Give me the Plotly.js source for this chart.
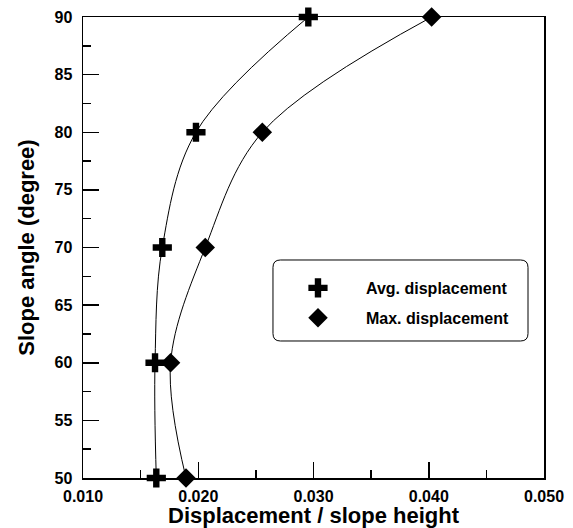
<!DOCTYPE html>
<html>
<head>
<meta charset="utf-8">
<script src="https://cdn.plot.ly/plotly-3.0.1.min.js"></script>
<style>html,body{margin:0;padding:0;background:#fff;}#chart{width:573px;height:528px;}</style>
</head>
<body>
<div id="chart"></div>
<script>
// Data
const slopeAngle = [50, 60, 70, 80, 90];
const avgDisplacement = [0.01636, 0.01625, 0.01688, 0.01980, 0.02955];
const maxDisplacement = [0.01894, 0.01760, 0.02061, 0.02556, 0.04025];
const seriesNames = ["Avg. displacement", "Max. displacement"];
const xTickVals = [0.010, 0.020, 0.030, 0.040, 0.050];
const yTickVals = [50, 55, 60, 65, 70, 75, 80, 85, 90];

const FONT = "'Liberation Sans', Arial, Helvetica, sans-serif";

const lineStyle = {shape: "spline", smoothing: 1, color: "#000", width: 1};
const traces = [
  // smooth curves (no legend entry)
  {x: avgDisplacement, y: slopeAngle, type: "scatter", mode: "lines",
   line: lineStyle, showlegend: false, hoverinfo: "skip"},
  {x: maxDisplacement, y: slopeAngle, type: "scatter", mode: "lines",
   line: lineStyle, showlegend: false, hoverinfo: "skip"},
  // markers (legend entries)
  {x: avgDisplacement, y: slopeAngle, name: seriesNames[0],
   type: "scatter", mode: "markers", legendgroup: "a",
   marker: {symbol: "cross", size: 16, color: "#000", line: {width: 0}},
   cliponaxis: false},
  {x: maxDisplacement, y: slopeAngle, name: seriesNames[1],
   type: "scatter", mode: "markers", legendgroup: "b",
   marker: {symbol: "diamond", size: 15, color: "#000", line: {width: 0}},
   cliponaxis: false}
];

// rounded legend frame (paper coords)
const bx0 = 0.4121, bx1 = 0.9653, by0 = 0.2972, by1 = 0.4729, r = 0.016;
const framePath =
  `M ${bx0 + r} ${by1} L ${bx1 - r} ${by1} Q ${bx1} ${by1} ${bx1} ${by1 - r} ` +
  `L ${bx1} ${by0 + r} Q ${bx1} ${by0} ${bx1 - r} ${by0} ` +
  `L ${bx0 + r} ${by0} Q ${bx0} ${by0} ${bx0} ${by0 + r} ` +
  `L ${bx0} ${by1 - r} Q ${bx0} ${by1} ${bx0 + r} ${by1} Z`;

const layout = {
  width: 573, height: 528,
  margin: {l: 83, r: 29, t: 17, b: 50, pad: 0},
  paper_bgcolor: "#fff", plot_bgcolor: "#fff",
  font: {family: FONT, color: "#000"},
  showlegend: true,
  legend: {
    x: 0.4056, y: 0.4490, xanchor: "left", yanchor: "top",
    xref: "paper", yref: "paper",
    bgcolor: "rgba(0,0,0,0)", borderwidth: 0,
    itemwidth: 86, traceorder: "grouped", tracegroupgap: 6,
    font: {family: FONT, size: 16, weight: "bold", color: "#000"}
  },
  xaxis: {
    range: [0.010, 0.050], tickvals: xTickVals, tickformat: ".3f",
    showgrid: false, zeroline: false,
    showline: true, linecolor: "#000", linewidth: 1.5, mirror: true,
    ticks: "inside", ticklen: 16, tickwidth: 1.5, tickcolor: "#000",
    minor: {dtick: 0.005, ticks: "inside", ticklen: 8, tickwidth: 1.5, tickcolor: "#000", showgrid: false},
    tickfont: {family: FONT, size: 16, weight: "bold"},
    ticklabelstandoff: 3,
    title: {text: "Displacement / slope height", font: {family: FONT, size: 22, weight: "bold"}, standoff: 1}
  },
  yaxis: {
    range: [50, 90], tickvals: yTickVals,
    showgrid: false, zeroline: false,
    showline: true, linecolor: "#000", linewidth: 1.5, mirror: true,
    ticks: "inside", ticklen: 16, tickwidth: 1.5, tickcolor: "#000",
    minor: {dtick: 2.5, ticks: "inside", ticklen: 8, tickwidth: 1.5, tickcolor: "#000", showgrid: false},
    tickfont: {family: FONT, size: 16, weight: "bold"},
    ticklabelstandoff: 6,
    title: {text: "Slope angle (degree)", font: {family: FONT, size: 22, weight: "bold"}, standoff: 14}
  },
  shapes: [{
    type: "path", xref: "paper", yref: "paper", path: framePath,
    line: {color: "#000", width: 1}, fillcolor: "rgba(0,0,0,0)", layer: "above"
  }]
};

Plotly.newPlot("chart", traces, layout, {staticPlot: true, displayModeBar: false});
</script>
</body>
</html>
